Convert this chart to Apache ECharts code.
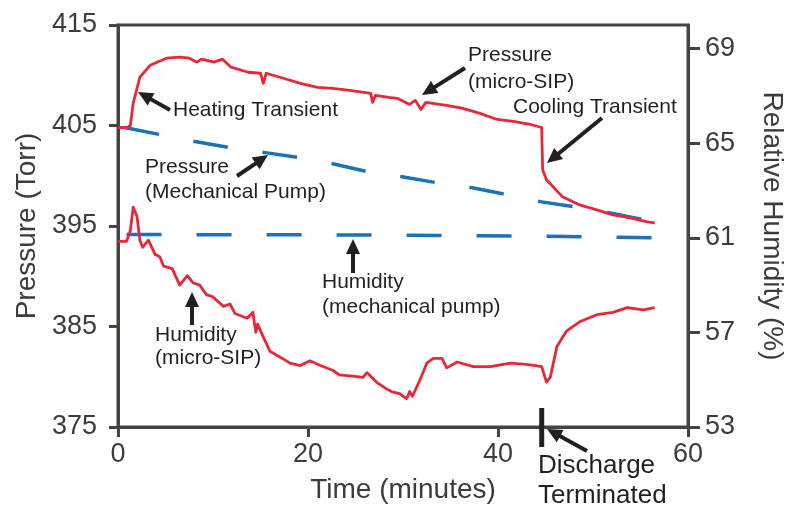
<!DOCTYPE html>
<html>
<head>
<meta charset="utf-8">
<script src="https://cdn.jsdelivr.net/npm/echarts@6/dist/echarts.min.js"></script>
<style>html,body{margin:0;padding:0;background:#fff}#c{width:786px;height:507px}</style>
</head>
<body>
<div id="c"></div>
<script>
// Time (minutes), Pressure (Torr) for micro-SIP
var pressureSIP = [[0,404.8],[1.0,404.8],[1.3,405.0],[1.6,407.2],[2.3,409.8],[3.4,411.0],[4.1,411.3],[5.1,411.7],[6.5,411.8],[7.5,411.7],[8.3,411.3],[8.8,411.6],[10.1,411.3],[11.0,411.6],[11.9,410.8],[13.7,410.3],[15.0,410.2],[15.3,409.2],[15.6,410.2],[17.4,409.7],[19.2,409.2],[21.0,408.8],[22.6,408.7],[24.4,408.5],[26.6,408.2],[26.8,407.3],[27.1,408.0],[28.5,407.8],[29.4,407.7],[30.7,407.1],[31.3,407.5],[31.9,406.6],[32.4,407.3],[34.6,407.0],[36.3,406.7],[38.1,406.2],[39.9,405.6],[41.6,405.4],[43.4,405.1],[44.6,404.8],[44.7,400.6],[45.1,399.6],[46.8,397.9],[48.6,397.1],[50.4,396.6],[52.1,396.1],[53.9,395.8],[55.7,395.4],[56.5,395.3]];
// Pressure (Torr) for mechanical pump
var pressurePump = [[0.7,404.8],[4.4,404.1],[8.1,403.4],[11.8,402.8],[15.5,402.3],[19.2,401.8],[22.6,401.2],[26.3,400.4],[29.9,399.9],[33.6,399.3],[37.3,398.8],[41.0,398.1],[44.6,397.4],[48.1,396.9],[51.8,396.3],[55.5,395.6],[56.3,395.4]];
// Relative humidity (%) for micro-SIP
var humiditySIP = [[0,60.85],[0.9,60.85],[1.3,61.3],[1.6,62.3],[2.0,61.9],[2.3,60.9],[2.6,60.6],[3.2,60.9],[3.9,60.3],[4.4,60.2],[4.8,59.8],[5.7,59.7],[6.5,59.0],[7.3,59.4],[7.9,59.1],[8.6,59.0],[9.3,58.6],[10.0,58.5],[11.1,58.1],[11.8,58.2],[12.3,57.8],[13.6,57.6],[14.2,57.85],[14.5,57.0],[14.7,57.35],[15.3,56.8],[16.0,56.2],[17.3,55.9],[18.1,55.7],[19.2,55.6],[20.2,55.8],[21.3,55.6],[22.6,55.4],[23.3,55.2],[24.7,55.15],[25.8,55.1],[26.2,55.3],[27.2,54.9],[28.3,54.6],[28.8,54.5],[29.7,54.4],[30.0,54.3],[30.4,54.2],[30.7,54.5],[31.0,54.3],[31.8,55.0],[32.5,55.7],[33.2,55.9],[34.1,55.9],[34.6,55.5],[35.7,55.75],[37.4,55.55],[39.2,55.55],[41.3,55.7],[43.0,55.65],[44.6,55.55],[45.1,54.9],[45.5,55.1],[46.2,56.4],[47.2,57.05],[48.6,57.45],[50.4,57.75],[52.1,57.85],[53.6,58.05],[55.3,57.95],[56.5,58.05]];
// Relative humidity (%) for mechanical pump
var humidityPump = [[0.9,61.14],[25,61.12],[45.4,61.07],[45.5,61.0],[56.4,61.0]];
var xTicks = [0, 20, 40, 60];
var pressureTicks = [375, 385, 395, 405, 415];
var humidityTicks = [53, 57, 61, 65, 69];
var dischargeTime = 44.6;

var FONT = "'Liberation Sans', Arial, sans-serif";
var AX = '#45443f';
var RED = '#e8283a';
var BLUE = '#1b72b9';
var TXT = '#231f20';

var chart = echarts.init(document.getElementById('c'), null, {renderer: 'canvas'});

function axisCommon() {
  return {
    axisLine: {show: true, onZero: false, lineStyle: {color: AX, width: 3}},
    axisTick: {show: true, inside: false, length: 9, lineStyle: {color: AX, width: 3}},
    splitLine: {show: false},
    nameTextStyle: {fontFamily: FONT, fontSize: 28, color: '#3c3c3c'},
    axisLabel: {fontFamily: FONT, fontSize: 27, color: '#3c3c3c'}
  };
}

var xA = axisCommon();
Object.assign(xA, {type: 'value', min: xTicks[0], max: xTicks[xTicks.length-1], interval: 20,
  name: 'Time (minutes)', nameLocation: 'middle', nameGap: 49});
xA.axisTick.length = 10;
xA.axisLabel.margin = 14;

var y0 = axisCommon();
Object.assign(y0, {type: 'value', position: 'left', min: pressureTicks[0], max: pressureTicks[pressureTicks.length-1], interval: 10,
  name: 'Pressure (Torr)', nameLocation: 'middle', nameGap: 76});
y0.axisLabel.margin = 21;

var y1 = axisCommon();
Object.assign(y1, {type: 'value', position: 'right', min: humidityTicks[0], max: 70, interval: 4,
  name: 'Relative Humidity (%)', nameLocation: 'middle', nameGap: 70, nameRotate: -90});
y1.axisTick.length = 12;
y1.axisLabel.margin = 17;
y1.axisLabel.showMaxLabel = false;

chart.setOption({
  animation: false,
  backgroundColor: '#fff',
  grid: {left: 118, right: 98, top: 25, bottom: 80, containLabel: false, outerBoundsMode: 'none',
    show: true, borderColor: AX, borderWidth: 3, backgroundColor: 'transparent'},
  xAxis: xA,
  yAxis: [y0, y1],
  series: [
    {type: 'line', yAxisIndex: 0, data: pressurePump, showSymbol: false, symbol: 'none', z: 3,
      lineStyle: {color: BLUE, width: 3.5, type: [35, 35], cap: 'butt'}},
    {type: 'line', yAxisIndex: 1, data: humidityPump, showSymbol: false, symbol: 'none', z: 3,
      lineStyle: {color: BLUE, width: 3.5, type: [35, 35], cap: 'butt'}},
    {type: 'line', yAxisIndex: 0, data: pressureSIP, showSymbol: false, symbol: 'none', z: 4,
      lineStyle: {color: RED, width: 2.8, join: 'round'}},
    {type: 'line', yAxisIndex: 1, data: humiditySIP, showSymbol: false, symbol: 'none', z: 4,
      lineStyle: {color: RED, width: 2.8, join: 'round'}}
  ]
});

// annotations (pixel positions)
var texts = [
  ['Heating Transient', 173, 110, 21],
  ['Pressure', 145, 167, 21], ['(Mechanical Pump)', 145, 192, 21],
  ['Pressure', 468, 55, 21], ['(micro-SIP)', 468, 82, 21],
  ['Cooling Transient', 513, 107, 21],
  ['Humidity', 322, 282, 21], ['(mechanical pump)', 322, 307, 21],
  ['Humidity', 155, 335, 21], ['(micro-SIP)', 155, 358, 21],
  ['Discharge', 538, 466, 26], ['Terminated', 538, 496, 26]
];
var arrows = [
  [170,110,138,92],[237,176,268,155],[465,68,422,95],[602,118,547,163],
  [353,273,353,239],[192,325,192,292],[587,451,547,429]
];
var g = [];
texts.forEach(function(t){
  g.push({type: 'text', x: t[1], y: t[2], z: 10, style: {text: t[0], fontFamily: FONT, fontSize: t[3], fill: TXT, textAlign: 'left', textVerticalAlign: 'middle'}});
});
arrows.forEach(function(a){
  var dx = a[2]-a[0], dy = a[3]-a[1], L = Math.sqrt(dx*dx+dy*dy);
  var ux = dx/L, uy = dy/L, px = -uy, py = ux;
  var hl = 15, hw = 7;
  var bx = a[2]-ux*hl, by = a[3]-uy*hl;
  g.push({type: 'line', z: 10, shape: {x1: a[0], y1: a[1], x2: bx+ux*2, y2: by+uy*2}, style: {stroke: TXT, lineWidth: 4}});
  g.push({type: 'polygon', z: 10, shape: {points: [[a[2],a[3]],[bx+px*hw,by+py*hw],[bx-px*hw,by-py*hw]]}, style: {fill: TXT}});
});
var dp = chart.convertToPixel({gridIndex: 0}, [dischargeTime, pressureTicks[0]]);
g.push({type: 'rect', z: 10, shape: {x: dp[0]-2.5, y: dp[1]-19, width: 5, height: 39}, style: {fill: TXT}});
chart.setOption({graphic: g});
</script>
</body>
</html>
